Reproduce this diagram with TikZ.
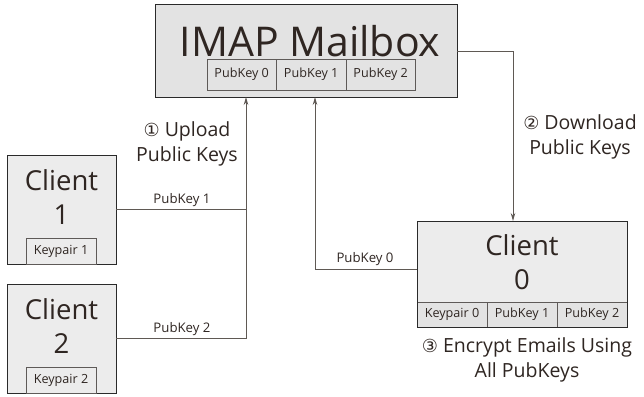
\documentclass[tikz,border=0pt]{standalone}
\usepackage{fontspec}
\setmainfont{Open Sans}
\newfontfamily\circfont{DejaVu Sans}
\usetikzlibrary{arrows.meta}
\definecolor{txt}{HTML}{2F2622}
\definecolor{boxline}{HTML}{2A2A2A}
\definecolor{cellline}{HTML}{5E5A58}
\definecolor{conn}{HTML}{5F5954}
\definecolor{imapfill}{HTML}{E3E3E3}
\definecolor{clientfill}{HTML}{ECECEC}
\begin{document}
\begin{tikzpicture}[x=1pt,y=-1pt,
  bigbox/.style={draw=boxline,line width=1pt,inner sep=0pt,outer sep=0pt},
  cell/.style={draw=cellline,line width=0.9pt,fill=imapfill,inner sep=0pt,outer sep=0pt,minimum height=#1,text=txt,font=\fontsize{12.6}{14}\selectfont},
  cell/.default=31pt,
  conline/.style={draw=conn,line width=0.9pt},
  arr/.style={conline,-{Stealth[length=8pt,width=4.5pt]}},
  lbl/.style={text=txt,font=\fontsize{13.2}{15}\selectfont,inner sep=1pt},
  step lbl/.style={text=txt,align=center,font=\fontsize{19.5}{25}\selectfont,inner sep=0pt}
]
\useasboundingbox (0,0) rectangle (644,396);
\fill[white] (0,0) rectangle (644,396);

% IMAP mailbox
\node[bigbox,fill=imapfill,minimum width=302pt,minimum height=92pt] (imap) at (306,51) {};
\node[text=txt,font=\fontsize{41}{43}\selectfont] (imapt) at (310,41) {IMAP Mailbox};
\node[cell,minimum width=69.5pt] (m0) at (241.7,74.5) {PubKey 0};
\node[cell,minimum width=69.5pt] (m1) at (311.2,74.5) {PubKey 1};
\node[cell,minimum width=69.5pt] (m2) at (380.7,74.5) {PubKey 2};

% Client 1
\node[bigbox,fill=clientfill,minimum width=109pt,minimum height=109pt] (c1) at (61.5,209.5) {};
\node[text=txt,align=center,font=\fontsize{27.5}{34}\selectfont] (c1t) at (61.5,197) {Client\\1};
\node[cell=26pt,fill=clientfill,minimum width=70pt] (k1) at (61,251) {Keypair 1};

% Client 2
\node[bigbox,fill=clientfill,minimum width=109pt,minimum height=109pt] (c2) at (61.5,338.5) {};
\node[text=txt,align=center,font=\fontsize{27.5}{34}\selectfont] (c2t) at (61.5,326) {Client\\2};
\node[cell=26pt,fill=clientfill,minimum width=70pt] (k2) at (61,380) {Keypair 2};

% Client 0
\node[bigbox,fill=clientfill,minimum width=210pt,minimum height=106pt] (c0) at (522,274) {};
\node[text=txt,align=center,font=\fontsize{27.5}{34}\selectfont] (c0t) at (522,262) {Client\\0};
\node[cell=25pt,fill=imapfill,minimum width=70pt] (d0) at (452,314.5) {Keypair 0};
\node[cell=25pt,fill=imapfill,minimum width=70pt] (d1) at (522,314.5) {PubKey 1};
\node[cell=25pt,fill=imapfill,minimum width=70pt] (d2) at (592,314.5) {PubKey 2};
\draw[bigbox,fill=none] (c0.north west) rectangle (c0.south east);

% connectors
\coordinate (upA) at ([xshift=-60pt]imap.south);
\coordinate (upB) at ([xshift=9pt]imap.south);
\coordinate (dnA) at ([xshift=-9pt]c0.north);
\coordinate (c0w) at ([yshift=5pt]c0.west);
\draw[conline] (c2.east) -| (c1.east -| upA);
\draw[arr] (c1.east) -| (upA);
\draw[arr] (c0w) -| (upB);
\draw[arr] (imap.east) -| (dnA);

% labels
\node[lbl] (p1) at (182,200) {PubKey 1};
\node[lbl] (p2) at (182,329) {PubKey 2};
\node[lbl] (p0) at (365,259) {PubKey 0};

\node[step lbl] (s1) at (187,144) {{\circfont\fontsize{18}{22}\selectfont ①} Upload\\Public Keys};
\node[step lbl] (s2) at (580,137) {{\circfont\fontsize{18}{22}\selectfont ②} Download\\Public Keys};
\node[step lbl] (s3) at (527,360) {{\circfont\fontsize{18}{22}\selectfont ③} Encrypt Emails Using\\All PubKeys};
\end{tikzpicture}
\end{document}
